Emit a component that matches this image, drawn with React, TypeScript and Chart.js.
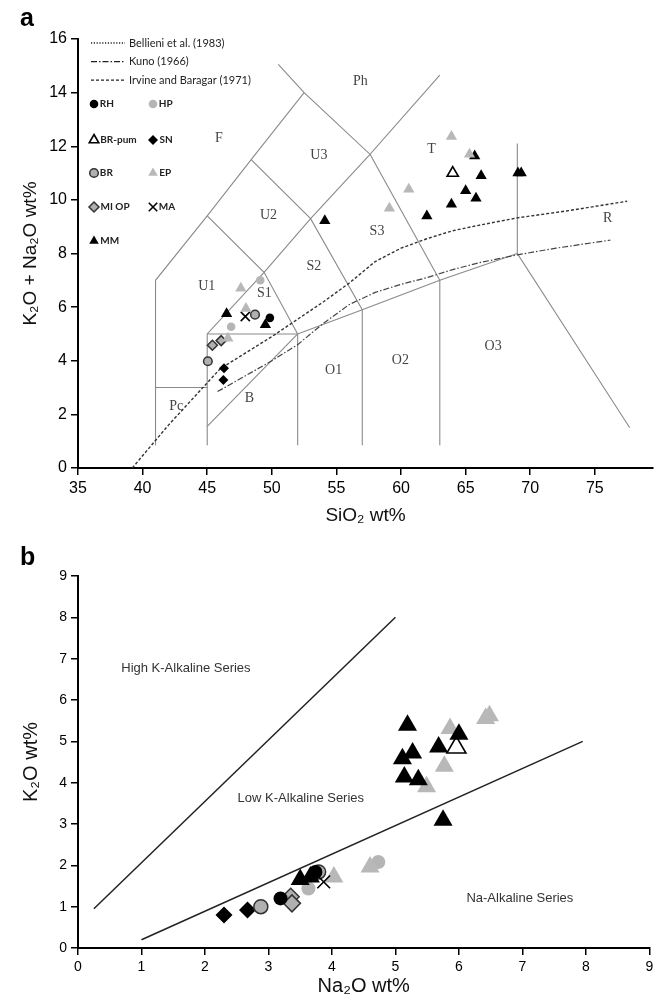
import React, { useEffect, useRef } from 'react';
import { Chart, registerables } from 'chart.js';
import { drawPoint } from 'chart.js/helpers';

Chart.register(...registerables);

// ---------------- Panel a : TAS diagram (SiO2 vs K2O+Na2O) ----------------
const A_X_TICKS = [35, 40, 45, 50, 55, 60, 65, 70, 75];
const A_Y_TICKS = [0, 2, 4, 6, 8, 10, 12, 14, 16];

const RH_SIO2 = [49.85];
const RH_ALK = [5.6];
const HP_SIO2 = [49.1, 46.85];
const HP_ALK = [7.0, 5.27];
const BRPUM_SIO2 = [64.0];
const BRPUM_ALK = [11.0];
const SN_SIO2 = [46.3, 46.25];
const SN_ALK = [3.72, 3.28];
const BR_SIO2 = [48.7, 45.05];
const BR_ALK = [5.72, 3.98];
const EP_SIO2 = [47.6, 48.0, 46.6, 63.9, 65.3, 60.6, 59.1];
const EP_ALK = [6.7, 5.95, 4.84, 12.36, 11.7, 10.4, 9.69];
const MIOP_SIO2 = [46.08, 45.4];
const MIOP_ALK = [4.75, 4.58];
const MA_SIO2 = [47.95];
const MA_ALK = [5.65];
const MM_SIO2 = [46.5, 49.5, 54.1, 62.0, 63.9, 65.0, 65.8, 66.2, 65.7, 69.05, 69.3];
const MM_ALK = [5.75, 5.34, 9.22, 9.4, 9.84, 10.34, 10.06, 10.9, 11.64, 11.0, 11.0];

// TAS field boundaries (polylines)
const F_BOUND_SIO2 = [41, 41, 45, 48.4, 52.5];
const F_BOUND_ALK = [0.85, 7, 9.4, 11.5, 14];
const PH_BOUND_SIO2 = [50.5, 52.5, 57.6, 63];
const PH_BOUND_ALK = [15.05, 14, 11.7, 14.65];
const PC_TOP_SIO2 = [41, 45];
const PC_TOP_ALK = [3, 3];
const U1_S_BOUND_SIO2 = [45, 45, 49.4, 53, 57.6];
const U1_S_BOUND_ALK = [0.85, 5, 7.3, 9.3, 11.7];
const U1_U2_BOUND_SIO2 = [45, 49.4, 52];
const U1_U2_BOUND_ALK = [9.4, 7.3, 5];
const U2_U3_BOUND_SIO2 = [48.4, 53, 57];
const U2_U3_BOUND_ALK = [11.5, 9.3, 5.9];
const S3_T_BOUND_SIO2 = [57.6, 63];
const S3_T_BOUND_ALK = [11.7, 7];
const O_TOP_SIO2 = [45, 52, 57, 63, 69];
const O_TOP_ALK = [5, 5, 5.9, 7, 8];
const V52_SIO2 = [52, 52];
const V52_ALK = [0.85, 5];
const V57_SIO2 = [57, 57];
const V57_ALK = [0.85, 5.9];
const V63_SIO2 = [63, 63];
const V63_ALK = [0.85, 7];
const R_BOUND_SIO2 = [69, 69, 77.7];
const R_BOUND_ALK = [12.1, 8, 1.5];
const B_DIAG_SIO2 = [45, 52];
const B_DIAG_ALK = [1.55, 5];

// alkaline / subalkaline divides
const IB_SIO2 = [39.2, 42, 46, 50, 52, 54, 56, 58, 60, 62, 64, 66, 69, 73, 77.5];
const IB_ALK = [0, 1.6, 3.7, 4.9, 5.55, 6.2, 6.9, 7.7, 8.2, 8.55, 8.85, 9.05, 9.33, 9.6, 9.95];
const KUNO_SIO2 = [45.8, 48, 50, 52, 54, 56, 58, 60, 62, 64, 66, 69, 72, 76.2];
const KUNO_ALK = [2.85, 3.45, 4.0, 4.6, 5.4, 6.1, 6.55, 6.85, 7.1, 7.4, 7.65, 7.95, 8.2, 8.5];

const FIELD_NAMES = ['F', 'Ph', 'U3', 'U2', 'U1', 'S1', 'S2', 'S3', 'T', 'R', 'Pc', 'B', 'O1', 'O2', 'O3'];
const FIELD_SIO2 = [45.9, 56.85, 53.64, 49.74, 44.96, 49.43, 53.26, 58.14, 62.36, 76.0, 42.6, 48.27, 54.78, 59.95, 67.13];
const FIELD_ALK = [12.3, 14.41, 11.65, 9.44, 6.79, 6.52, 7.51, 8.82, 11.89, 9.32, 2.29, 2.6, 3.66, 4.03, 4.53];

const LINE_LEGEND = ['Bellieni et al. (1983)', 'Kuno (1966)', 'Irvine and Baragar (1971)'];
const MARKER_LEGEND_COL1 = ['RH', 'BR-pum', 'BR', 'MI OP', 'MM'];
const MARKER_LEGEND_COL2 = ['HP', 'SN', 'EP', 'MA'];

// ---------------- Panel b : Na2O vs K2O ----------------
const B_TICKS = [0, 1, 2, 3, 4, 5, 6, 7, 8, 9];

const RH_NA = [3.19, 3.74];
const RH_K = [1.2, 1.84];
const HP_NA = [3.63, 4.73];
const HP_K = [1.44, 2.08];
const BRPUM_NA = [5.96];
const BRPUM_K = [4.85];
const SN_NA = [2.3, 2.67];
const SN_K = [0.8, 0.92];
const BR_NA = [2.88, 3.79];
const BR_K = [1.0, 1.84];
const EP_NA = [4.03, 4.6, 5.49, 5.77, 5.86, 6.42, 6.48];
const EP_K = [1.72, 1.96, 3.9, 4.4, 5.31, 5.55, 5.62];
const MIOP_NA = [3.35, 3.37];
const MIOP_K = [1.24, 1.08];
const MA_NA = [3.87];
const MA_K = [1.6];
const MM_NA = [3.5, 3.66, 5.19, 5.27, 5.11, 5.14, 5.36, 5.68, 6.0, 5.75];
const MM_K = [1.66, 1.72, 5.39, 4.72, 4.58, 4.14, 4.07, 4.86, 5.17, 3.09];

const HIGHK_LINE_NA = [0.25, 5.0];
const HIGHK_LINE_K = [0.95, 8.0];
const NA_LINE_NA = [1.0, 7.95];
const NA_LINE_K = [0.2, 5.0];

const SERIES_NAMES = ['High K-Alkaline Series', 'Low K-Alkaline Series', 'Na-Alkaline Series'];
const SERIES_NA = [1.7, 3.51, 6.96];
const SERIES_K = [6.76, 3.62, 1.21];

// ---------------- styles ----------------
type SizeKey = 'tri' | 'circ' | 'dia' | 'cross';
type Mk = { style: string; bg: string; border: string; bw: number; size: SizeKey };
const MARKERS: Record<string, Mk> = {
  RH: { style: 'circle', bg: '#000', border: '#000', bw: 0, size: 'circ' },
  HP: { style: 'circle', bg: '#b5b5b5', border: '#b5b5b5', bw: 0, size: 'circ' },
  'BR-pum': { style: 'triangle', bg: '#fff', border: '#000', bw: 1.6, size: 'tri' },
  SN: { style: 'rectRot', bg: '#000', border: '#000', bw: 0, size: 'dia' },
  BR: { style: 'circle', bg: '#b0b0b0', border: '#333', bw: 1.5, size: 'circ' },
  EP: { style: 'triangle', bg: '#b8b8b8', border: '#b8b8b8', bw: 0, size: 'tri' },
  'MI OP': { style: 'rectRot', bg: '#b0b0b0', border: '#333', bw: 1.5, size: 'dia' },
  MA: { style: 'crossRot', bg: '#000', border: '#000', bw: 1.6, size: 'cross' },
  MM: { style: 'triangle', bg: '#000', border: '#000', bw: 0, size: 'tri' },
};
const SIZE_A: Record<SizeKey, number> = { tri: 6.5, circ: 4.3, dia: 5, cross: 6.5 };
const SIZE_B: Record<SizeKey, number> = { tri: 11, circ: 7, dia: 8.5, cross: 9 };

const pts = (xs: number[], ys: number[]) => xs.map((x, i) => ({ x, y: ys[i] }));

function pointDataset(name: string, xs: number[], ys: number[], sizes: Record<SizeKey, number>) {
  const m = MARKERS[name];
  return {
    type: 'scatter',
    label: name,
    data: pts(xs, ys),
    showLine: false,
    pointStyle: m.style,
    pointRadius: sizes[m.size],
    pointHoverRadius: sizes[m.size],
    pointBackgroundColor: m.bg,
    pointBorderColor: m.border,
    pointBorderWidth: m.bw,
    order: 0,
  };
}

function lineDataset(xs: number[], ys: number[], color: string, width: number, dash: number[] = []) {
  return {
    type: 'scatter',
    data: pts(xs, ys),
    showLine: true,
    pointRadius: 0,
    pointHoverRadius: 0,
    borderColor: color,
    borderWidth: width,
    borderDash: dash,
    fill: false,
    tension: 0,
    order: 2,
  };
}

const textPlugin = (id: string, labels: string[], xs: number[], ys: number[], font: string, color: string) => ({
  id,
  afterDatasetsDraw(chart: any) {
    const { ctx, scales } = chart;
    ctx.save();
    ctx.font = font;
    ctx.fillStyle = color;
    ctx.textAlign = 'center';
    ctx.textBaseline = 'middle';
    labels.forEach((t, i) => {
      ctx.fillText(t, scales.x.getPixelForValue(xs[i]), scales.y.getPixelForValue(ys[i]));
    });
    ctx.restore();
  },
});

const LINE_DASHES = [[1.2, 1.6], [6, 2, 1.5, 2], [3, 2]];

const legendPluginA = {
  id: 'tasLegend',
  afterDraw(chart: any) {
    const ctx = chart.ctx;
    ctx.save();
    ctx.textBaseline = 'middle';
    ctx.textAlign = 'left';
    LINE_LEGEND.forEach((label, i) => {
      const y = 43 + i * 18.6;
      ctx.strokeStyle = '#222';
      ctx.lineWidth = 1.3;
      ctx.setLineDash(LINE_DASHES[i]);
      ctx.beginPath();
      ctx.moveTo(91, y);
      ctx.lineTo(125, y);
      ctx.stroke();
      ctx.setLineDash([]);
      ctx.font = "11px Lato";
      ctx.fillStyle = '#222';
      ctx.fillText(label, 129, y);
    });
    const drawEntry = (name: string, x: number, y: number) => {
      const m = MARKERS[name];
      const r = m.size === 'tri' ? 5.5 : m.size === 'cross' ? 6 : SIZE_A[m.size];
      ctx.fillStyle = m.bg;
      ctx.strokeStyle = m.border;
      ctx.lineWidth = m.bw;
      drawPoint(ctx, { pointStyle: m.style, rotation: 0, radius: r, borderWidth: m.bw } as any, x, y);
      ctx.font = "bold 10px Lato";
      ctx.fillStyle = '#222';
      const off = m.size === 'tri' ? r * 0.87 + 1.5 : m.size === 'cross' ? r * 0.71 + 1.5 : r + 1.5;
      ctx.fillText(name, x + off, y);
    };
    const rows = [104, 140, 173, 207, 241];
    MARKER_LEGEND_COL1.forEach((n, i) => drawEntry(n, 94, rows[i]));
    MARKER_LEGEND_COL2.forEach((n, i) => drawEntry(n, 153, rows[i]));
    ctx.restore();
  },
};

function axis(min: number, max: number, tickVals: number[], fontSize: number, title: string, titleSize: number, fitKey: 'width' | 'height', fitVal: number) {
  return {
    type: 'linear',
    min,
    max,
    afterBuildTicks: (s: any) => {
      s.ticks = tickVals.map((v) => ({ value: v }));
    },
    afterFit: (s: any) => {
      s[fitKey] = fitVal;
    },
    ticks: {
      color: '#000',
      font: { family: 'Liberation Sans', size: fontSize },
      padding: 4,
      autoSkip: false,
      maxRotation: 0,
    },
    grid: { drawOnChartArea: false, drawTicks: true, tickLength: 7, color: '#000', lineWidth: 1.5 },
    border: { display: true, color: '#000', width: 2 },
    title: { display: true, text: title, color: '#111', font: { family: 'Liberation Sans', size: titleSize } },
  };
}

export default function App() {
  const refA = useRef<HTMLCanvasElement | null>(null);
  const refB = useRef<HTMLCanvasElement | null>(null);

  useEffect(() => {
    const chartA = new Chart(refA.current as HTMLCanvasElement, {
      type: 'scatter',
      data: {
        datasets: [
          pointDataset('EP', EP_SIO2, EP_ALK, SIZE_A),
          pointDataset('HP', HP_SIO2, HP_ALK, SIZE_A),
          pointDataset('BR', BR_SIO2, BR_ALK, SIZE_A),
          pointDataset('MI OP', MIOP_SIO2, MIOP_ALK, SIZE_A),
          pointDataset('MA', MA_SIO2, MA_ALK, SIZE_A),
          pointDataset('RH', RH_SIO2, RH_ALK, SIZE_A),
          pointDataset('SN', SN_SIO2, SN_ALK, SIZE_A),
          pointDataset('BR-pum', BRPUM_SIO2, BRPUM_ALK, SIZE_A),
          pointDataset('MM', MM_SIO2, MM_ALK, SIZE_A),
          lineDataset(IB_SIO2, IB_ALK, '#333', 1.4, [3, 2]),
          lineDataset(KUNO_SIO2, KUNO_ALK, '#444', 1.2, [6, 2, 1.5, 2]),
          lineDataset(F_BOUND_SIO2, F_BOUND_ALK, '#8a8a8a', 1.1),
          lineDataset(PH_BOUND_SIO2, PH_BOUND_ALK, '#8a8a8a', 1.1),
          lineDataset(PC_TOP_SIO2, PC_TOP_ALK, '#8a8a8a', 1.1),
          lineDataset(U1_S_BOUND_SIO2, U1_S_BOUND_ALK, '#8a8a8a', 1.1),
          lineDataset(U1_U2_BOUND_SIO2, U1_U2_BOUND_ALK, '#8a8a8a', 1.1),
          lineDataset(U2_U3_BOUND_SIO2, U2_U3_BOUND_ALK, '#8a8a8a', 1.1),
          lineDataset(S3_T_BOUND_SIO2, S3_T_BOUND_ALK, '#8a8a8a', 1.1),
          lineDataset(O_TOP_SIO2, O_TOP_ALK, '#8a8a8a', 1.1),
          lineDataset(V52_SIO2, V52_ALK, '#8a8a8a', 1.1),
          lineDataset(V57_SIO2, V57_ALK, '#8a8a8a', 1.1),
          lineDataset(V63_SIO2, V63_ALK, '#8a8a8a', 1.1),
          lineDataset(R_BOUND_SIO2, R_BOUND_ALK, '#8a8a8a', 1.1),
          lineDataset(B_DIAG_SIO2, B_DIAG_ALK, '#8a8a8a', 1.1),
        ] as any,
      },
      options: {
        animation: false,
        responsive: false,
        maintainAspectRatio: false,
        layout: { padding: { left: 15, top: 39, right: 9, bottom: 14 } },
        plugins: { legend: { display: false }, tooltip: { enabled: false } },
        scales: {
          x: axis(35, 79.5, A_X_TICKS, 16, 'SiO₂ wt%', 19, 'height', 63),
          y: axis(0, 16, A_Y_TICKS, 16, 'K₂O + Na₂O wt%', 19, 'width', 63),
        } as any,
      },
      plugins: [
        textPlugin('fieldNames', FIELD_NAMES, FIELD_SIO2, FIELD_ALK, "14px 'Liberation Serif'", '#444'),
        legendPluginA,
      ],
    });

    const chartB = new Chart(refB.current as HTMLCanvasElement, {
      type: 'scatter',
      data: {
        datasets: [
          pointDataset('MM', MM_NA, MM_K, SIZE_B),
          pointDataset('BR-pum', BRPUM_NA, BRPUM_K, SIZE_B),
          pointDataset('MA', MA_NA, MA_K, SIZE_B),
          pointDataset('RH', RH_NA, RH_K, SIZE_B),
          pointDataset('BR', BR_NA, BR_K, SIZE_B),
          pointDataset('SN', SN_NA, SN_K, SIZE_B),
          pointDataset('MI OP', MIOP_NA, MIOP_K, SIZE_B),
          pointDataset('EP', EP_NA, EP_K, SIZE_B),
          pointDataset('HP', HP_NA, HP_K, SIZE_B),
          lineDataset(HIGHK_LINE_NA, HIGHK_LINE_K, '#222', 1.5),
          lineDataset(NA_LINE_NA, NA_LINE_K, '#222', 1.5),
        ] as any,
      },
      options: {
        animation: false,
        responsive: false,
        maintainAspectRatio: false,
        layout: { padding: { left: 15, top: 31, right: 10, bottom: 2 } },
        plugins: { legend: { display: false }, tooltip: { enabled: false } },
        scales: {
          x: axis(0, 9, B_TICKS, 14, 'Na₂O wt%', 20, 'height', 54),
          y: axis(0, 9, B_TICKS, 14, 'K₂O wt%', 20, 'width', 63),
        } as any,
      },
      plugins: [textPlugin('seriesNames', SERIES_NAMES, SERIES_NA, SERIES_K, "13px 'Liberation Sans'", '#333')],
    });

    return () => {
      chartA.destroy();
      chartB.destroy();
    };
  }, []);

  const panelLabel: React.CSSProperties = {
    position: 'absolute',
    left: 20,
    fontFamily: "'Liberation Sans', Arial, sans-serif",
    fontWeight: 'bold',
    fontSize: 25,
    lineHeight: '25px',
    color: '#000',
  };

  return (
    <div style={{ position: 'absolute', top: 0, left: 0, width: 662, height: 1004, background: '#fff', overflow: 'hidden' }}>
      <canvas ref={refA} width={662} height={545} style={{ position: 'absolute', top: 0, left: 0, width: 662, height: 545 }} />
      <canvas ref={refB} width={662} height={459} style={{ position: 'absolute', top: 545, left: 0, width: 662, height: 459 }} />
      <div style={{ ...panelLabel, top: 5 }}>a</div>
      <div style={{ ...panelLabel, top: 544 }}>b</div>
    </div>
  );
}
